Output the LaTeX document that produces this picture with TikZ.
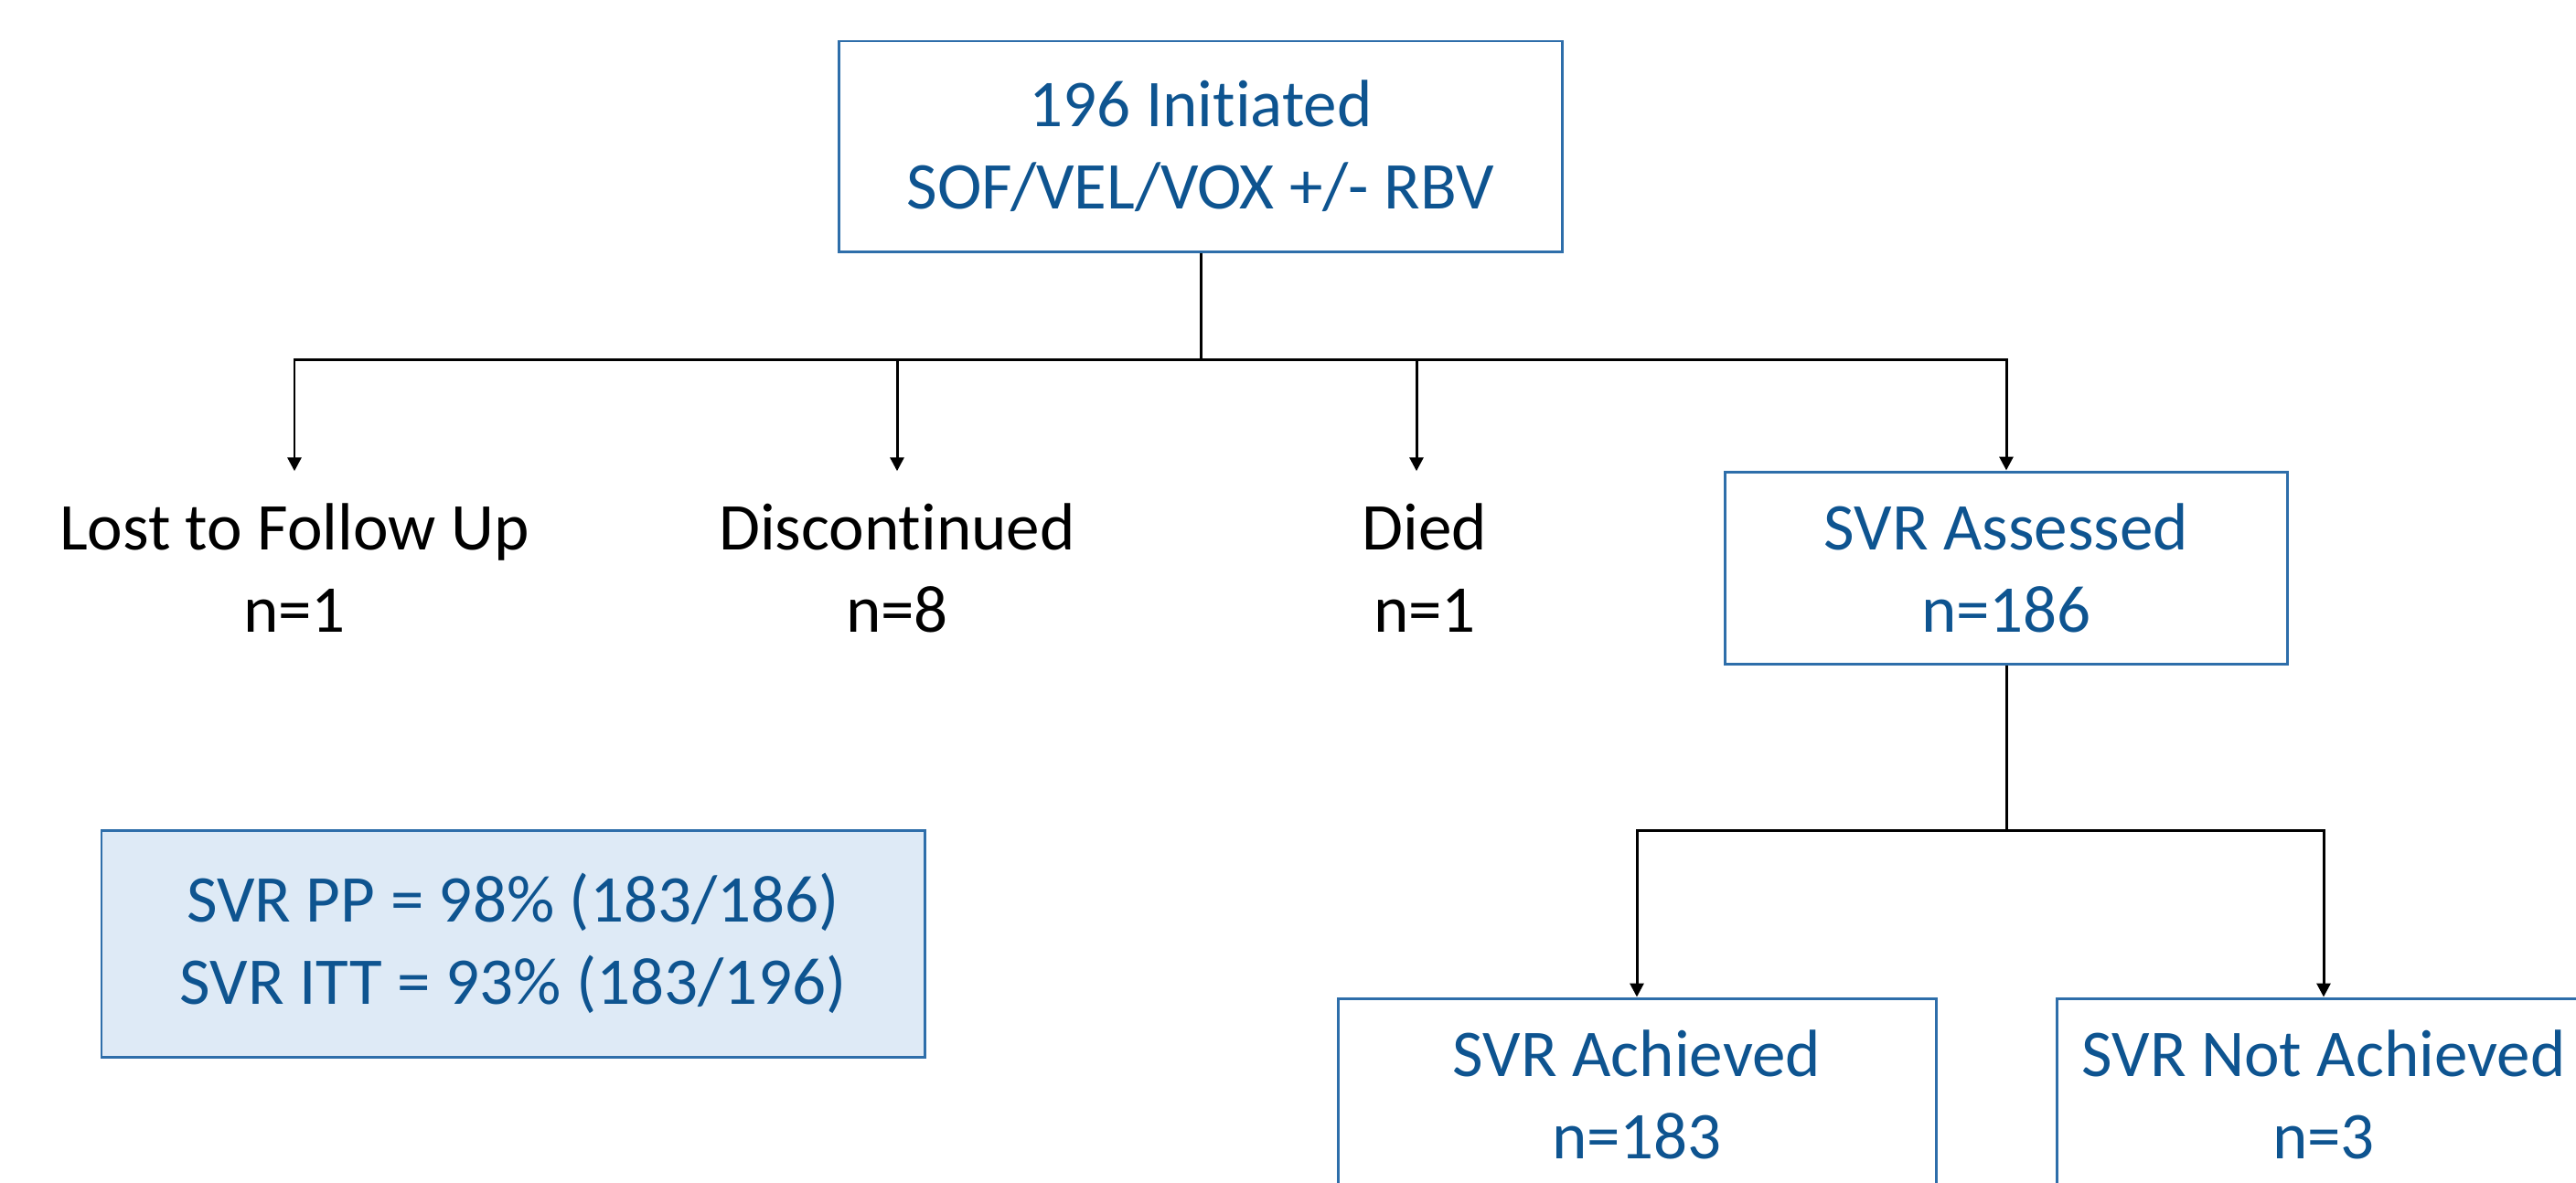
\documentclass[tikz,border=0pt]{standalone}
\usepackage{fontspec}
\setmainfont{Carlito}[RawFeature={-liga;-clig;-calt;-dlig}]
\definecolor{svrblue}{RGB}{14,84,144}
\definecolor{boxline}{RGB}{46,110,170}
\definecolor{ppfill}{RGB}{222,234,246}
\usetikzlibrary{arrows.meta,positioning,calc}

\begin{document}
\begin{tikzpicture}[every node/.style={font=\fontsize{20.8}{25.6}\selectfont,align=center,inner sep=0pt},
  flowbox/.style={draw=boxline,line width=0.85pt,text=svrblue,minimum height=2.10cm},
  outcome/.style={text=black,minimum height=2.10cm,minimum width=4cm},
  link/.style={line width=0.85pt,black},
  arr/.style={link,-{Triangle[width=0.15cm,length=0.15cm]}}]
\useasboundingbox (0,0) rectangle (28.17,-12.93);
\clip (0,0) rectangle (28.17,-12.93);
\node[flowbox,minimum width=7.91cm,minimum height=2.30cm] (init) at (13.13,-1.60) {196 Initiated\\SOF/VEL/VOX +/- RBV};
\node[outcome] (lost) at (3.22,-6.21) {Lost to Follow Up\\n=1};
\node[outcome] (disc) at (9.81,-6.21) {Discontinued\\n=8};
\node[outcome] (died) at (15.58,-6.21) {Died\\n=1};
\node[flowbox,minimum width=6.15cm] (assess) at (21.94,-6.21) {SVR Assessed\\n=186};
\node[flowbox,minimum width=6.54cm] (achieved) at (17.90,-11.97) {SVR Achieved\\n=183};
\node[flowbox,minimum width=5.84cm] (notach) at (25.41,-11.97) {SVR Not Achieved\\n=3};
\node[flowbox,fill=ppfill,minimum width=9.00cm,minimum height=2.48cm] (pp) at (5.61,-10.32) {SVR PP = 98\% (183/186)\\SVR ITT = 93\% (183/196)};
\coordinate (split) at (init.south |- 0,-3.93);
\coordinate (split2) at (assess.south |- 0,-9.08);
\draw[link] (init.south)--(split);
\draw[arr] (split) -| (lost.north);
\draw[arr] (split) -| (disc.north);
\draw[arr] (split) -| ([xshift=-0.09cm]died.north);
\draw[arr] (split) -| (assess.north);
\draw[link] (assess.south)--(split2);
\draw[arr] (split2) -| (achieved.north);
\draw[arr] (split2) -| (notach.north);
\end{tikzpicture}
\end{document}
